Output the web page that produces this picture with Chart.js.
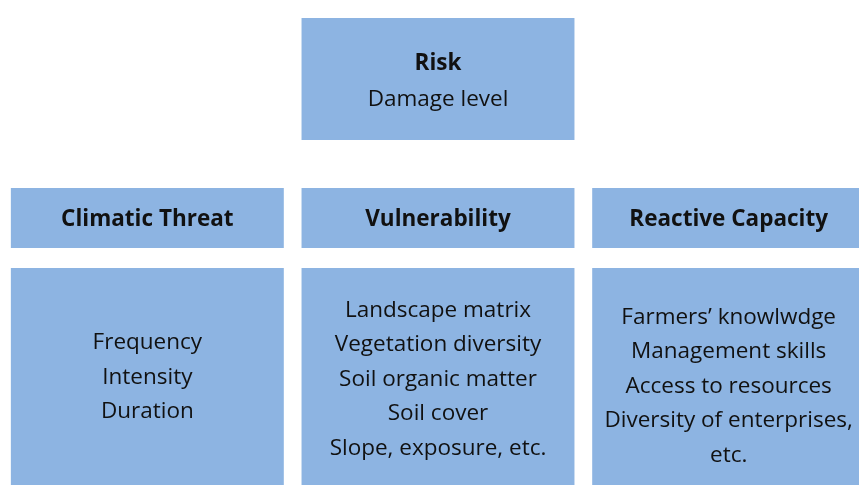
<!DOCTYPE html>
<html><head><meta charset="utf-8">
<script src="https://cdn.jsdelivr.net/npm/chart.js@4.4.1/dist/chart.umd.min.js"></script>
<style>
html,body{margin:0;padding:0;background:#fff;overflow:hidden;width:859px;height:485px;}
#wrap{position:absolute;left:0;top:0;width:874px;height:485px;}
</style></head>
<body><div id="wrap"><canvas id="c"></canvas></div>
<script>
// Columns of the diagram
const columns = ["Climatic Threat", "Vulnerability", "Reactive Capacity"];
// Row extents (vertical ranges, in diagram units, top to bottom)
const riskRow = [null, [18, 140], null];
const headerRow = [[188, 248], [188, 248], [188, 248]];
const detailRow = [[268, 485], [268, 485], [268, 485]];
// Texts
const riskTitle = "Risk";
const riskSubtitle = "Damage level";
const headerTexts = ["Climatic Threat", "Vulnerability", "Reactive Capacity"];
const detailTexts = [
  ["Frequency", "Intensity", "Duration"],
  ["Landscape matrix", "Vegetation diversity", "Soil organic matter", "Soil cover", "Slope, exposure, etc."],
  ["Farmers\u2019 knowlwdge", "Management skills", "Access to resources", "Diversity of enterprises,", "etc."]
];

const FONT = '"Open Sans", "DejaVu Sans", sans-serif';
const BOX = '#8db4e2';
const TEXT_NUDGE = [1, 3, 10];

const textPlugin = {
  id: 'boxText',
  afterDatasetsDraw(chart) {
    const ctx = chart.ctx;
    ctx.save();
    ctx.fillStyle = '#111111';
    ctx.textAlign = 'center';
    ctx.textBaseline = 'middle';
    // risk box
    const rb = chart.getDatasetMeta(0).data[1];
    const rcy = (rb.y + rb.base) / 2;
    ctx.font = 'bold 22.5px ' + FONT;
    ctx.fillText(riskTitle, rb.x, rcy - 15);
    ctx.font = '22.5px ' + FONT;
    ctx.fillText(riskSubtitle, rb.x, rcy + 21);
    // headers
    const hm = chart.getDatasetMeta(1).data;
    ctx.font = 'bold 22.5px ' + FONT;
    headerTexts.forEach((t, i) => {
      const b = hm[i];
      ctx.fillText(t, b.x, (b.y + b.base) / 2 + 2);
    });
    // details
    const dm = chart.getDatasetMeta(2).data;
    ctx.font = '22.5px ' + FONT;
    const lh = 34.5;
    detailTexts.forEach((lines, i) => {
      const b = dm[i];
      const cy = (b.y + b.base) / 2 + TEXT_NUDGE[i];
      const start = cy - (lines.length - 1) * lh / 2;
      lines.forEach((t, j) => ctx.fillText(t, b.x, start + j * lh));
    });
    ctx.restore();
  }
};

new Chart(document.getElementById('c'), {
  type: 'bar',
  data: {
    labels: columns,
    datasets: [
      { data: riskRow, backgroundColor: BOX, grouped: false },
      { data: headerRow, backgroundColor: BOX, grouped: false },
      { data: detailRow, backgroundColor: BOX, grouped: false }
    ]
  },
  options: {
    responsive: true,
    maintainAspectRatio: false,
    animation: false,
    layout: { padding: { left: 2, right: 0, top: 0, bottom: 0 } },
    datasets: { bar: { barPercentage: 1, categoryPercentage: 0.939, borderWidth: 0 } },
    plugins: { legend: { display: false }, tooltip: { enabled: false }, title: { display: false } },
    scales: {
      x: { display: false },
      y: { display: false, min: 0, max: 485, reverse: true }
    }
  },
  plugins: [textPlugin]
});
</script></body></html>
